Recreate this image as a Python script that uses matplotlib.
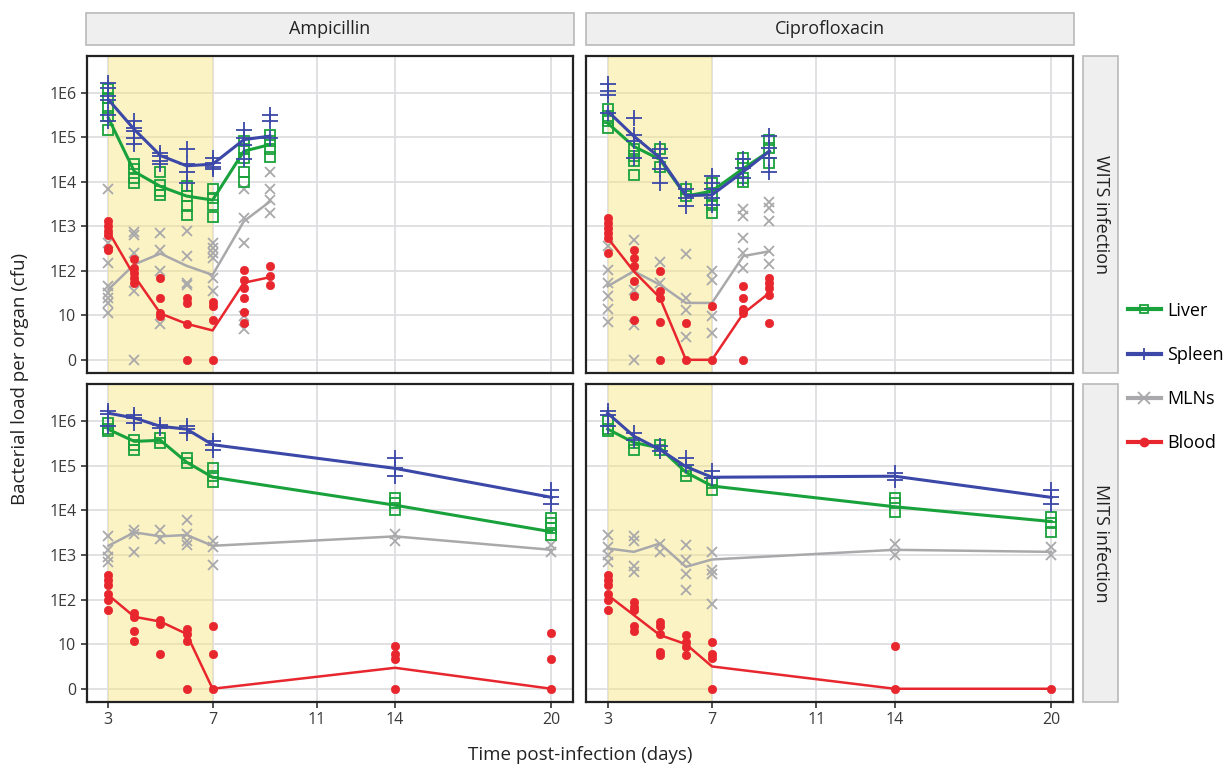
import matplotlib
matplotlib.use("Agg")
import matplotlib.pyplot as plt
from matplotlib.patches import Rectangle
from matplotlib.lines import Line2D

plt.rcParams['font.family'] = ['Open Sans', 'DejaVu Sans']

# ---------------- data (cfu per organ) ----------------
days_wits = [3, 4, 5, 6, 7, 8.2, 9.2]
days_mits = [3, 4, 5, 6, 7, 14, 20]

x_ticks = [3, 7, 11, 14, 20]
x_tick_labels = ["3", "7", "11", "14", "20"]
y_ticks = [0, 10, 1e2, 1e3, 1e4, 1e5, 1e6]
y_tick_labels = ["0", "10", "1E2", "1E3", "1E4", "1E5", "1E6"]

drugs = ["Ampicillin", "Ciprofloxacin"]
infections = ["WITS infection", "MITS infection"]
organs = ["Liver", "Spleen", "MLNs", "Blood"]

# Ampicillin, WITS
amp_wits_liver_mean = [2.75e5, 1.7e4, 7.9e3, 4.8e3, 3.9e3, 4.9e4, 6.9e4]
amp_wits_liver_pts = [[1.2e6, 7.8e5, 4.6e5, 3.0e5, 1.5e5], [2.5e4, 1.9e4, 1.2e4, 9.5e3],
                      [1.7e4, 8.3e3, 6.2e3, 5.1e3], [7.9e3, 4.8e3, 2.8e3, 1.8e3],
                      [6.8e3, 4.4e3, 3.1e3, 1.6e3], [8.1e4, 5.4e4, 3.5e4, 1.7e4, 1.0e4],
                      [1.15e5, 8.1e4, 5.4e4, 3.6e4]]
amp_wits_spleen_mean = [7.1e5, 1.5e5, 3.9e4, 2.3e4, 2.5e4, 8.9e4, 1.07e5]
amp_wits_spleen_pts = [[1.7e6, 1.3e6, 8.5e5, 7.1e5, 3.2e5, 2.3e5], [2.3e5, 1.6e5, 1.4e5, 9.8e4, 7.2e4],
                       [4.5e4, 3.8e4, 2.9e4, 2.5e4], [5.6e4, 2.5e4, 1.7e4, 9.5e3],
                       [3.5e4, 2.7e4, 2.2e4, 1.95e4], [1.5e5, 9.8e4, 6.9e4, 3.2e4],
                       [3.2e5, 2.3e5, 9.8e4]]
amp_wits_mln_mean = [38, 140, 245, 130, 81, 1.3e3, 3.6e3]
amp_wits_mln_pts = [[6.9e3, 430, 150, 45, 32, 25, 19, 11], [740, 650, 250, 35, 0],
                    [710, 300, 98, 8], [780, 215, 54, 49], [430, 320, 250, 195, 69, 35],
                    [6.9e3, 1.55e3, 430, 9.8, 7], [1.7e4, 6.9e3, 4.0e3, 2.0e3]]
amp_wits_blood_mean = [780, 76, 11, 8.1, 6.6, 54, 72]
amp_wits_blood_pts = [[1.3e3, 1.0e3, 780, 650, 320, 300], [180, 115, 89, 69, 54],
                      [69, 25, 11, 9.8], [25, 19, 8, 0], [20, 16, 9, 0],
                      [102, 63, 41, 25, 12, 8.3], [126, 76, 49]]

# Ciprofloxacin, WITS
cip_wits_liver_mean = [2.1e5, 6.3e4, 3.2e4, 4.8e3, 6.2e3, 2.0e4, 4.9e4]
cip_wits_liver_pts = [[4.3e5, 3.0e5, 2.3e5, 1.6e5], [5.4e4, 3.8e4, 2.9e4, 1.45e4],
                      [5.4e4, 2.2e4], [6.8e3, 4.8e3], [9.5e3, 4.8e3, 3.1e3, 2.0e3],
                      [3.5e4, 2.5e4, 1.2e4, 1.0e4], [8.9e4, 5.8e4, 2.7e4]]
cip_wits_spleen_mean = [3.9e5, 1.07e5, 3.5e4, 4.9e3, 5.1e3, 1.7e4, 4.9e4]
cip_wits_spleen_pts = [[1.55e6, 1.1e6, 9.1e5, 3.5e5], [2.75e5, 1.15e5, 8.1e4, 3.5e4],
                       [5.4e4, 3.5e4, 1.9e4, 9.5e3], [6.8e3, 4.4e3, 2.8e3],
                       [1.35e4, 9.5e3, 6.8e3, 4.4e3, 3.1e3], [3.2e4, 2.0e4, 1.2e4],
                       [1.07e5, 5.8e4, 3.5e4, 1.7e4]]
cip_wits_mln_mean = [45, 98, 49, 19, 19, 215, 275]
cip_wits_mln_pts = [[355, 107, 54, 27, 14, 8.6], [500, 107, 38, 7.9, 0], [160, 54],
                    [245, 25, 13.5, 5.1], [98, 63, 9.8, 6], [2.4e3, 1.7e3, 550, 250, 115],
                    [3.6e3, 2.6e3, 1.3e3, 275, 140]]
cip_wits_blood_mean = [550, 98, 25, 0, 0, 11, 32]
cip_wits_blood_pts = [[1.55e3, 1.2e3, 910, 710, 550, 250], [300, 195, 126, 58, 27, 9],
                      [98, 35, 25, 8.6, 0], [8.3, 0], [16, 0], [45, 25, 14, 11, 0],
                      [69, 54, 41, 29, 8.3]]

# Ampicillin, MITS
amp_mits_liver_mean = [6.5e5, 3.5e5, 3.7e5, 1.2e5, 5.5e4, 1.3e4, 3.3e3]
amp_mits_liver_pts = [[9.1e5, 6.5e5, 5.9e5], [3.8e5, 2.95e5, 2.3e5], [4.2e5, 3.2e5],
                      [1.5e5, 1.15e5], [8.7e4, 5.8e4, 4.4e4], [1.9e4, 1.45e4, 1.0e4],
                      [6.6e3, 5.1e3, 4.0e3, 2.8e3]]
amp_mits_spleen_mean = [1.5e6, 1.17e6, 7.6e5, 6.6e5, 2.95e5, 8.7e4, 1.95e4]
amp_mits_spleen_pts = [[1.66e6, 1.45e6, 7.6e5], [1.4e6, 1.17e6, 9.1e5], [8.3e5, 6.9e5],
                       [7.6e5, 6.5e5, 5.4e5], [3.5e5, 2.95e5, 2.3e5], [1.5e5, 8.7e4, 5.8e4],
                       [2.9e4, 2.0e4, 1.4e4]]
amp_mits_mln_mean = [1.6e3, 3.2e3, 2.6e3, 2.8e3, 1.6e3, 2.6e3, 1.3e3]
amp_mits_mln_pts = [[2.6e3, 1.3e3, 910, 710], [3.6e3, 3.0e3, 1.17e3], [3.6e3, 2.3e3],
                    [6.0e3, 3.0e3, 2.1e3, 1.66e3], [2.1e3, 1.5e3, 590], [3.0e3, 2.1e3],
                    [1.66e3, 1.17e3]]
amp_mits_blood_mean = [126, 41, 32, 17, 0, 4.7, 0]
amp_mits_blood_pts = [[355, 270, 210, 135, 98, 58], [49, 41, 20, 12], [35, 29, 7.7],
                      [22, 17, 12, 0], [25, 7.9, 0], [9.6, 7.7, 6.7, 0], [18, 6.7, 0]]

# Ciprofloxacin, MITS
cip_mits_liver_mean = [6.6e5, 3.3e5, 2.5e5, 7.1e4, 3.5e4, 1.2e4, 5.6e3]
cip_mits_liver_pts = [[1.0e6, 6.5e5, 5.9e5], [3.2e5, 2.3e5], [2.95e5, 2.3e5], [7.4e4, 5.8e4],
                      [4.1e4, 2.9e4], [1.9e4, 1.45e4, 9.3e3], [7.2e3, 5.1e3, 3.3e3]]
cip_mits_spleen_mean = [1.5e6, 4.6e5, 2.3e5, 9.5e4, 5.5e4, 5.8e4, 1.95e4]
cip_mits_spleen_pts = [[1.66e6, 1.4e6, 7.6e5], [5.4e5, 3.8e5], [2.7e5, 2.1e5], [1.5e5, 1.05e5],
                       [7.4e4, 5.2e4], [6.8e4, 4.8e4], [2.9e4, 2.0e4, 1.4e4]]
cip_mits_mln_mean = [1.4e3, 1.17e3, 1.8e3, 540, 790, 1.3e3, 1.17e3]
cip_mits_mln_pts = [[2.8e3, 1.5e3, 1.0e3, 710], [2.6e3, 2.0e3, 560, 420], [1.8e3, 1.17e3],
                    [1.66e3, 760, 380, 165], [1.17e3, 460, 380, 79], [1.8e3, 1.0e3],
                    [1.5e3, 1.0e3]]
cip_mits_blood_mean = [126, 45, 16, 10, 5, 0, 0]
cip_mits_blood_pts = [[355, 270, 210, 135, 98, 58], [89, 69, 58, 25, 20],
                      [32, 25, 17, 8.2, 7.5], [16, 11, 9.4, 7.5], [11, 7.7, 7, 0],
                      [9.6, 0], [0]]

panels = {
    (0, 0): (days_wits, [(amp_wits_liver_mean, amp_wits_liver_pts), (amp_wits_spleen_mean, amp_wits_spleen_pts),
                         (amp_wits_mln_mean, amp_wits_mln_pts), (amp_wits_blood_mean, amp_wits_blood_pts)]),
    (0, 1): (days_wits, [(cip_wits_liver_mean, cip_wits_liver_pts), (cip_wits_spleen_mean, cip_wits_spleen_pts),
                         (cip_wits_mln_mean, cip_wits_mln_pts), (cip_wits_blood_mean, cip_wits_blood_pts)]),
    (1, 0): (days_mits, [(amp_mits_liver_mean, amp_mits_liver_pts), (amp_mits_spleen_mean, amp_mits_spleen_pts),
                         (amp_mits_mln_mean, amp_mits_mln_pts), (amp_mits_blood_mean, amp_mits_blood_pts)]),
    (1, 1): (days_mits, [(cip_mits_liver_mean, cip_mits_liver_pts), (cip_mits_spleen_mean, cip_mits_spleen_pts),
                         (cip_mits_mln_mean, cip_mits_mln_pts), (cip_mits_blood_mean, cip_mits_blood_pts)]),
}

# ---------------- styles ----------------
colors = {"Liver": "#19a23c", "Spleen": "#3b48a8", "MLNs": "#a9a9ab", "Blood": "#e8262d"}
markers = {"Liver": "s", "Spleen": "+", "MLNs": "x", "Blood": "o"}
msize = {"Liver": 6.5, "Spleen": 11, "MLNs": 7, "Blood": 6}
lwidth = {"Liver": 2.2, "Spleen": 2.2, "MLNs": 1.8, "Blood": 1.8}
zorders = {"Liver": 4, "Spleen": 5, "MLNs": 3, "Blood": 6}

W, H = 1226, 766
fig = plt.figure(figsize=(W / 100, H / 100), dpi=100)
fig.patch.set_facecolor("white")


def rect(x0, x1, y0, y1):
    return [x0 / W, 1 - y1 / H, (x1 - x0) / W, (y1 - y0) / H]


col_x = [(86.7, 573.3), (586, 1073)]
row_y = [(56, 372.7), (384, 701.7)]

for (r, c), (days, series) in panels.items():
    ax = fig.add_axes(rect(col_x[c][0], col_x[c][1], row_y[r][0], row_y[r][1]))
    ax.set_yscale("symlog", linthresh=10, linscale=0.9, base=10)
    ax.set_xlim(2.17, 20.84)
    ax.set_ylim(-2.9, 10 ** 6.83)
    ax.set_xticks(x_ticks)
    ax.set_yticks(y_ticks)
    ax.yaxis.set_minor_locator(matplotlib.ticker.NullLocator())
    ax.xaxis.set_minor_locator(matplotlib.ticker.NullLocator())
    ax.grid(True, color="#dedee2", lw=1.3, zorder=0)
    ax.set_axisbelow(True)
    ax.axvspan(3, 7, color="#f9e680", alpha=0.45, lw=0, zorder=1)
    for sp in ax.spines.values():
        sp.set_color("#222222")
        sp.set_linewidth(1.6)
    ax.tick_params(axis="both", colors="#333333", labelsize=11.5, length=4, width=1.2,
                   labelcolor="#3a3a3a")
    if c == 0:
        ax.set_yticklabels(y_tick_labels)
    else:
        ax.set_yticklabels([])
        ax.tick_params(axis="y", length=0)
    if r == 1:
        ax.set_xticklabels(x_tick_labels)
    else:
        ax.set_xticklabels([])
        ax.tick_params(axis="x", length=0)
    for organ, (mean, pts) in zip(organs, series):
        col = colors[organ]
        ax.plot(days, mean, color=col, lw=lwidth[organ], zorder=zorders[organ])
        xs, ys = [], []
        for d, vals in zip(days, pts):
            xs.extend([d] * len(vals))
            ys.extend(vals)
        if organ == "Liver":
            ax.plot(xs, ys, ls="none", marker="s", ms=msize[organ], mfc="none", mec=col,
                    mew=1.3, zorder=zorders[organ])
        elif organ == "Blood":
            ax.plot(xs, ys, ls="none", marker="o", ms=msize[organ], mfc=col, mec=col,
                    mew=0.5, zorder=zorders[organ])
        else:
            ax.plot(xs, ys, ls="none", marker=markers[organ], ms=msize[organ], color=col,
                    mew=1.3, zorder=zorders[organ])

# strips
strip_fc, strip_ec = "#efeff0", "#b9b9bb"
for c, name in enumerate(drugs):
    x0, x1 = col_x[c][0] - 0.5, col_x[c][1] + 0.5
    fig.add_artist(Rectangle((x0 / W, 1 - 45 / H), (x1 - x0) / W, 32 / H,
                             transform=fig.transFigure, fc=strip_fc, ec=strip_ec, lw=1.2))
    fig.text((x0 + x1) / 2 / W, 1 - 29 / H, name, ha="center", va="center",
             fontsize=13, color="#222222")
for r, name in enumerate(infections):
    y0, y1 = row_y[r]
    fig.add_artist(Rectangle((1083 / W, 1 - y1 / H), 35 / W, (y1 - y0) / H,
                             transform=fig.transFigure, fc=strip_fc, ec=strip_ec, lw=1.2))
    fig.text(1100.5 / W, 1 - (y0 + y1) / 2 / H, name, ha="center", va="center",
             rotation=-90, fontsize=13, color="#222222")

# axis titles
fig.text(20 / W, 1 - 379 / H, "Bacterial load per organ (cfu)", rotation=90,
         ha="center", va="center", fontsize=13.5, color="#222222")
fig.text(580 / W, 1 - 755 / H, "Time post-infection (days)", ha="center", va="center",
         fontsize=13.5, color="#222222")

# legend
handles = []
for organ in organs:
    col = colors[organ]
    if organ == "Liver":
        h = Line2D([], [], color=col, lw=3, marker="s", ms=6, mfc="none", mec=col, mew=1.3)
    elif organ == "Blood":
        h = Line2D([], [], color=col, lw=3, marker="o", ms=6, mfc=col, mec=col)
    else:
        h = Line2D([], [], color=col, lw=3, marker=markers[organ], ms=9, mew=1.3)
    handles.append(h)
fig.legend(handles, organs, loc="center left", bbox_to_anchor=(1128 / W, 1 - 377 / H),
           frameon=False, fontsize=13, handlelength=1.8, handletextpad=0.35,
           labelspacing=1.45, borderaxespad=0, borderpad=0)

fig.savefig("out.png", dpi=100, facecolor="white")
